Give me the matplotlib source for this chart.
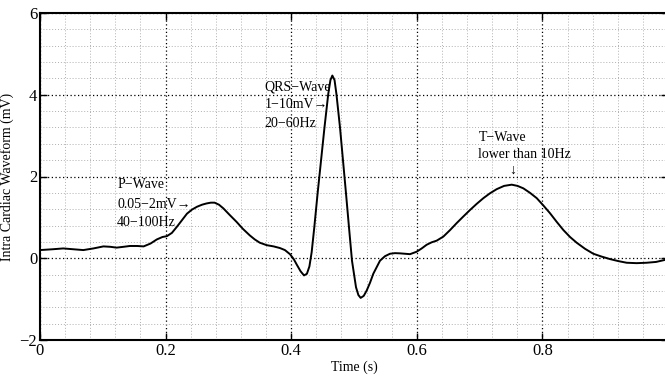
import matplotlib
matplotlib.use("Agg")
import matplotlib.pyplot as plt
from matplotlib.ticker import MultipleLocator

plt.rcParams['font.family'] = ['Liberation Serif', 'DejaVu Serif']
plt.rcParams['axes.unicode_minus'] = True

time_s = [0.0, 0.02, 0.037, 0.053, 0.069, 0.085, 0.101, 0.112, 0.122, 0.133, 0.143, 0.155,
          0.165, 0.176, 0.186, 0.195, 0.202, 0.21, 0.218, 0.226, 0.234, 0.242, 0.25, 0.258,
          0.265, 0.272, 0.278, 0.285, 0.292, 0.302, 0.313, 0.323, 0.334, 0.342, 0.35, 0.361,
          0.372, 0.382, 0.39, 0.398, 0.404, 0.409, 0.415, 0.4204, 0.425, 0.429, 0.4326,
          0.4368, 0.442, 0.4475, 0.453, 0.459, 0.4625, 0.4655, 0.469, 0.472, 0.4777,
          0.4825, 0.4873, 0.492, 0.4968, 0.5032, 0.507, 0.5106, 0.5155, 0.5202, 0.5255,
          0.5307, 0.5414, 0.5493, 0.5573, 0.5652, 0.5732, 0.5812, 0.5892, 0.5998, 0.6078,
          0.6157, 0.6237, 0.6316, 0.6423, 0.653, 0.6635, 0.674, 0.6847, 0.6953, 0.706,
          0.7166, 0.7272, 0.739, 0.7511, 0.7604, 0.7697, 0.7803, 0.791, 0.8016, 0.8122,
          0.8228, 0.8334, 0.844, 0.8546, 0.868, 0.8811, 0.8944, 0.9076, 0.921, 0.9342,
          0.95, 0.966, 0.981, 0.9952, 1.0]
voltage_mv = [0.2, 0.22, 0.24, 0.22, 0.2, 0.24, 0.29, 0.28, 0.26, 0.28, 0.3, 0.3,
              0.29, 0.36, 0.46, 0.52, 0.54, 0.62, 0.77, 0.93, 1.09, 1.19, 1.26, 1.31,
              1.34, 1.36, 1.36, 1.31, 1.22, 1.06, 0.89, 0.72, 0.56, 0.46, 0.38, 0.32,
              0.29, 0.25, 0.2, 0.1, -0.02, -0.16, -0.32, -0.42, -0.38, -0.2, 0.15,
              0.76, 1.58, 2.39, 3.2, 4.02, 4.36, 4.47, 4.36, 4.02, 3.2,
              2.39, 1.58, 0.76, -0.06, -0.71, -0.9, -0.97, -0.92, -0.79, -0.6,
              -0.38, -0.06, 0.05, 0.11, 0.125, 0.12, 0.11, 0.10, 0.16, 0.24,
              0.33, 0.39, 0.43, 0.53, 0.69, 0.86, 1.02, 1.18, 1.33, 1.47,
              1.59, 1.69, 1.77, 1.80, 1.77, 1.71, 1.6, 1.47, 1.29, 1.10,
              0.89, 0.69, 0.52, 0.38, 0.23, 0.11, 0.04, -0.02, -0.07, -0.11,
              -0.12, -0.11, -0.09, -0.04, -0.03]

fig = plt.figure(figsize=(6.65, 3.78), dpi=100)
ax = fig.add_axes([40/665, 38/378, 628/665, 327/378])

ax.plot(time_s, voltage_mv, color='black', lw=1.4, solid_joinstyle='round')

ax.set_xlim(0, 1)
ax.set_ylim(-2, 6)
ax.xaxis.set_minor_locator(MultipleLocator(0.04))
ax.yaxis.set_minor_locator(MultipleLocator(0.4))
ax.set_xticks([0, 0.2, 0.4, 0.6, 0.8])
ax.set_xticklabels(['0', '0.2', '0.4', '0.6', '0.8'])
ax.set_yticks([-2, 0, 2, 4, 6])
ax.set_yticklabels(['\u22122', '0', '2', '4', '6'])

ax.grid(which='major', color='black', linestyle=(0, (1, 2)), linewidth=0.9)
ax.grid(which='minor', color='#b0b0b0', linestyle=(0, (1, 2)), linewidth=0.7)
ax.set_axisbelow(True)

ax.tick_params(which='major', direction='in', length=5, width=1, top=True, right=True,
               labelsize=12, pad=2)
ax.tick_params(which='minor', length=0, top=True, right=True)
for s in ax.spines.values():
    s.set_linewidth(1.5)

ax.set_xlabel('Time (s)', fontsize=10, labelpad=1)
ax.set_ylabel('Intra Cardiac Waveform (mV)', fontsize=10, labelpad=4)

fs = 10
ax.text(0.123, 1.80, 'P\u2212Wave', fontsize=fs, va='center', ha='left')
ax.text(0.123, 1.31, '0.05\u22122mV\u2192', fontsize=fs, va='center', ha='left')
ax.text(0.123, 0.87, '40\u2212100Hz', fontsize=fs, va='center', ha='left')

ax.text(0.358, 4.20, 'QRS\u2212Wave', fontsize=fs, va='center', ha='left')
ax.text(0.358, 3.76, '1\u221210mV\u2192', fontsize=fs, va='center', ha='left')
ax.text(0.358, 3.30, '20\u221260Hz', fontsize=fs, va='center', ha='left')

ax.text(0.698, 2.96, 'T\u2212Wave', fontsize=fs, va='center', ha='left')
ax.text(0.698, 2.54, 'lower than 10Hz', fontsize=fs, va='center', ha='left')
ax.text(0.753, 2.15, '\u2193', fontsize=fs, va='center', ha='center')

fig.savefig('out.png', dpi=100)
